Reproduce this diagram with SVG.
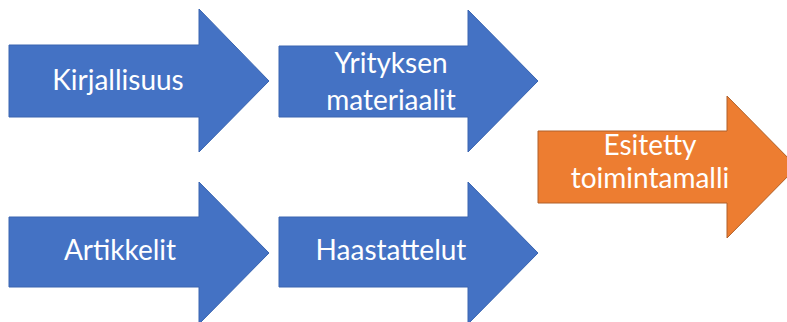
<svg xmlns="http://www.w3.org/2000/svg" width="787" height="322" viewBox="0 0 787 322">
<style>
.blue{fill:#4472C4;stroke:#3A65B0;stroke-width:1}
.orange{fill:#ED7D31;stroke:#B0612A;stroke-width:1}
.lbl{font-family:Lato,"Open Sans","Liberation Sans",sans-serif;font-size:28px;fill:#FFFFFF;text-anchor:middle}
</style>
<rect width="787" height="322" fill="#FFFFFF"/>
<g id="connectors"></g>
<g id="kirjallisuus">
<polygon class="blue" points="9,45 199,45 199,9 269,81 199,152 199,117 9,117"/>
<text class="lbl" x="118" y="90">Kirjallisuus</text>
</g>
<g id="yrityksen-materiaalit">
<polygon class="blue" points="279,46 468,46 468,10 538,81 468,152 468,117 279,117"/>
<text class="lbl" x="391" y="73">Yrityksen</text>
<text class="lbl" x="391" y="110">materiaalit</text>
</g>
<g id="artikkelit">
<polygon class="blue" points="9,217 199,217 199,182 269,253 199,324 199,287 9,287"/>
<text class="lbl" x="120" y="260">Artikkelit</text>
</g>
<g id="haastattelut">
<polygon class="blue" points="279,217 468,217 468,182 538,253 468,324 468,287 279,287"/>
<text class="lbl" x="391" y="260">Haastattelut</text>
</g>
<g id="esitetty-toimintamalli">
<polygon class="orange" points="538,131 727,131 727,96 797,167 727,238 727,203 538,203"/>
<text class="lbl" x="650" y="155">Esitetty</text>
<text class="lbl" x="650" y="188">toimintamalli</text>
</g>
</svg>
